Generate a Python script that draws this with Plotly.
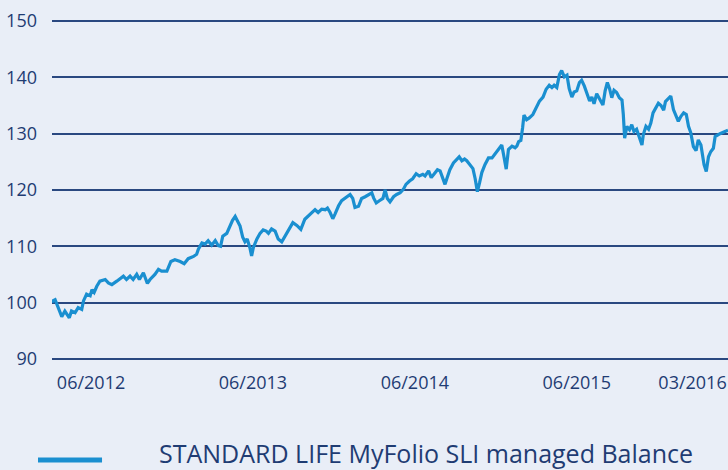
import pandas as pd
import plotly.graph_objects as go

# ---- data ----
start_date = "2012-03-05"
day_offsets = [
    0, 2, 7, 14, 22, 29, 39, 44, 52, 59, 67, 71, 78, 86, 90, 95, 101, 108, 120, 127,
    135, 146, 153, 161, 168, 176, 183, 191, 197, 206, 215, 221, 232, 240, 247, 259, 268, 277, 289, 298,
    307, 319, 326, 330, 338, 345, 352, 360, 368, 375, 380, 385, 394, 401, 407, 413, 418, 424, 430, 435,
    440, 446, 450, 454, 462, 469, 476, 483, 488, 495, 503, 510, 518, 525, 533, 543, 552, 561, 570, 578,
    586, 593, 600, 608, 616, 621, 627, 633, 638, 646, 653, 665, 672, 678, 683, 691, 698, 706, 713, 721,
    725, 731, 738, 746, 751, 756, 762, 770, 777, 785, 792, 798, 806, 813, 821, 828, 836, 841, 849, 855,
    861, 869, 875, 881, 886, 891, 897, 905, 913, 918, 924, 930, 935, 941, 949, 954, 959, 964, 969, 976,
    984, 992, 999, 1006, 1014, 1018, 1024, 1029, 1037, 1044, 1048, 1052, 1057, 1061, 1064, 1070, 1076, 1084, 1091, 1099,
    1107, 1114, 1121, 1127, 1132, 1138, 1144, 1149, 1155, 1161, 1166, 1172, 1177, 1183, 1189, 1194, 1200, 1206, 1212, 1217,
    1222, 1228, 1236, 1242, 1247, 1252, 1257, 1262, 1267, 1273, 1279, 1285, 1288, 1291, 1296, 1302, 1307, 1312, 1318, 1324,
    1330, 1333, 1339, 1345, 1350, 1355, 1360, 1367, 1373, 1379, 1383, 1390, 1395, 1401, 1407, 1412, 1418, 1424, 1430, 1435,
    1440, 1446, 1452, 1457, 1463, 1467, 1470, 1475, 1480, 1485, 1491, 1495, 1500, 1506, 1512, 1518, 1524,
]
fund_values = [
    100.0, 100.3, 100.5, 99.1, 97.5, 98.5, 97.3, 98.5, 98.2, 99.1, 98.8, 100.3, 101.5, 101.2, 102.3, 101.8, 102.9, 103.8, 104.1, 103.5,
    103.2, 103.8, 104.2, 104.7, 104.1, 104.7, 104.1, 105.0, 104.1, 105.3, 103.4, 104.1, 105.0, 105.9, 105.6, 105.6, 107.3, 107.6, 107.3, 106.9,
    107.8, 108.2, 108.6, 109.5, 110.6, 110.4, 111.0, 110.2, 111.0, 110.1, 110.0, 111.8, 112.3, 113.6, 114.6, 115.3, 114.5, 113.6, 111.6, 110.8,
    111.3, 109.8, 108.3, 109.8, 111.3, 112.3, 112.9, 112.7, 112.3, 113.1, 112.7, 111.3, 110.8, 111.8, 113.0, 114.2, 113.7, 113.0, 114.8, 115.4,
    116.0, 116.5, 116.0, 116.6, 116.5, 116.8, 116.0, 114.9, 115.7, 117.2, 118.1, 118.8, 119.2, 118.5, 116.9, 117.1, 118.5, 118.8, 119.2, 119.5,
    118.6, 117.7, 118.1, 118.5, 120.0, 118.5, 117.9, 118.8, 119.2, 119.5, 120.1, 121.0, 121.6, 122.0, 122.9, 122.5, 122.8, 122.5, 123.4, 122.2,
    122.8, 123.6, 123.4, 121.9, 121.0, 122.2, 123.6, 124.8, 125.5, 125.9, 125.2, 125.5, 125.2, 124.6, 123.8, 122.0, 119.7, 121.3, 123.1, 124.5,
    125.7, 125.7, 126.4, 127.2, 128.0, 126.3, 123.7, 127.2, 127.8, 127.5, 127.8, 128.6, 128.8, 131.1, 133.3, 132.5, 132.8, 133.4, 134.5, 135.8,
    136.5, 137.9, 138.6, 138.2, 138.6, 138.2, 140.5, 141.2, 140.1, 140.4, 138.0, 136.5, 137.4, 137.6, 139.1, 139.5, 138.5, 137.3, 135.8, 136.5,
    135.3, 137.1, 135.8, 135.1, 137.6, 139.1, 138.0, 136.4, 137.7, 137.3, 136.4, 136.0, 133.4, 129.2, 131.3, 130.7, 131.6, 130.4, 130.8, 129.2,
    128.0, 129.8, 131.3, 130.8, 131.9, 133.7, 134.3, 135.4, 135.0, 134.2, 135.7, 136.3, 136.7, 134.3, 133.0, 132.2, 133.1, 133.7, 133.4, 131.3,
    130.2, 127.7, 127.0, 128.9, 128.0, 126.3, 124.5, 123.3, 125.9, 126.8, 127.4, 129.5, 129.8, 130.0, 130.2, 130.4, 130.6,
]
series_name = "STANDARD LIFE MyFolio SLI managed Balance"
x_tick_dates = ["2012-06-01", "2013-06-01", "2014-06-01", "2015-06-01", "2016-02-17"]
x_tick_labels = ["06/2012", "06/2013", "06/2014", "06/2015", "03/2016"]
y_ticks = [90, 100, 110, 120, 130, 140, 150]

dates = pd.Timestamp(start_date) + pd.to_timedelta(day_offsets, unit="D")

BG = "#e9eef7"
NAVY = "#1f3c73"
LINE = "#1a8fd0"

fig = go.Figure()
fig.add_trace(go.Scatter(
    x=dates, y=fund_values, mode="lines", name=series_name,
    line=dict(color=LINE, width=3.2), showlegend=False,
))

fig.update_layout(
    template="none",
    width=728, height=470,
    margin=dict(l=52, r=0, t=20, b=110),
    paper_bgcolor=BG, plot_bgcolor=BG,
    font=dict(family="Open Sans, Noto Sans, sans-serif", color=NAVY, size=18),
    showlegend=False,
)
fig.update_xaxes(
    type="date", range=[dates[0], dates[-1]],
    tickvals=x_tick_dates, ticktext=x_tick_labels,
    showgrid=False, zeroline=False, showline=False, ticks="",
    tickfont=dict(size=18, color=NAVY), ticklabelstandoff=10, automargin=False,
)
fig.update_yaxes(
    range=[89.8, 150.2], tickvals=y_ticks,
    showgrid=True, gridcolor="#2a4880", gridwidth=1.5,
    zeroline=False, showline=False, ticks="",
    tickfont=dict(size=18, color=NAVY), ticklabelstandoff=14, automargin=False,
)

# legend (swatch + label) under the plot
fig.add_shape(type="line", xref="paper", yref="paper",
              x0=-0.0207, x1=0.074, y0=-0.294, y1=-0.294,
              line=dict(color=LINE, width=5))
fig.add_annotation(text=series_name, xref="paper", yref="paper",
                   x=0.1553, y=-0.275, xanchor="left", yanchor="middle",
                   showarrow=False, font=dict(size=25, color=NAVY))

fig.write_html(
    "out.html",
    config={"displayModeBar": False},
    post_script="document.body.style.margin='0';document.body.style.overflow='hidden';",
)
